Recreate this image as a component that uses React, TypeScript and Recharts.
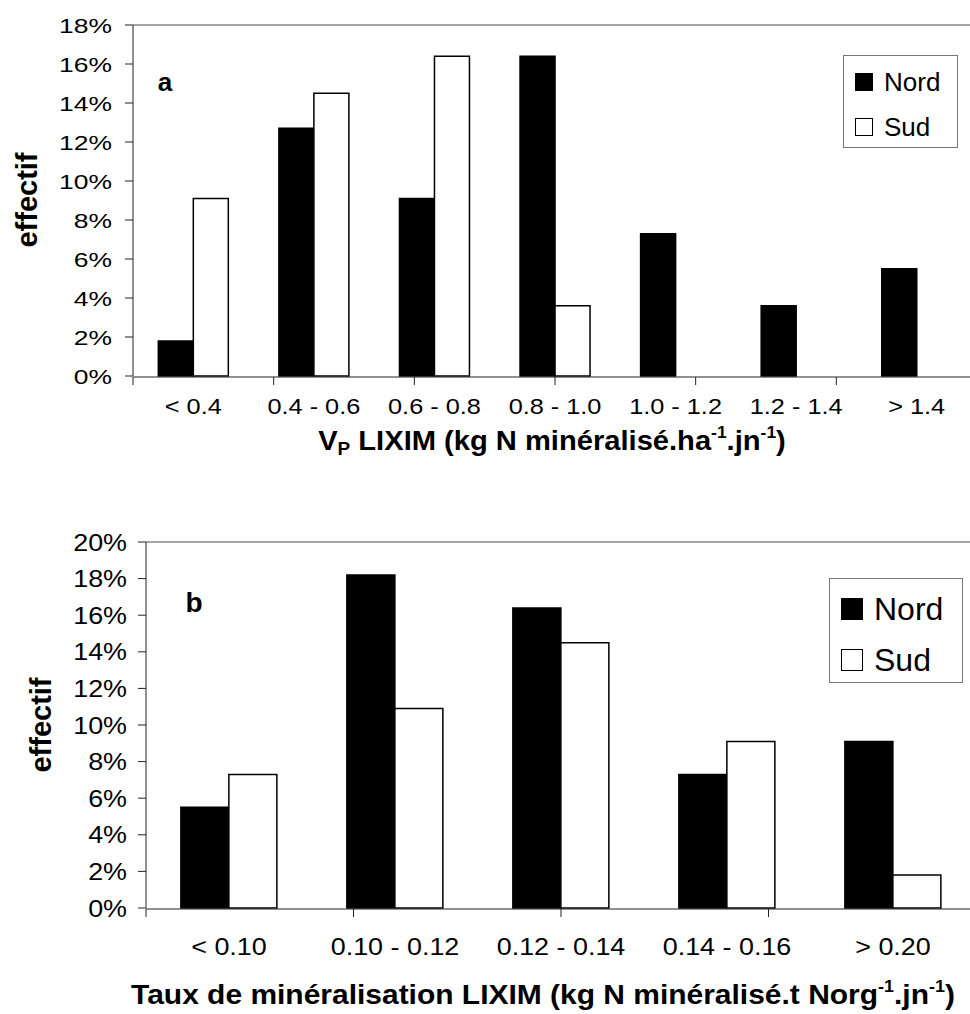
import React from 'react';
import {
  ComposedChart,
  Bar,
  XAxis,
  YAxis,
  ReferenceLine,
  Legend
} from 'recharts';

// panel a : V_P LIXIM classes
const vpClasses = ['< 0.4', '0.4 - 0.6', '0.6 - 0.8', '0.8 - 1.0', '1.0 - 1.2', '1.2 - 1.4', '> 1.4'];
const vpNord = [1.8, 12.7, 9.1, 16.4, 7.3, 3.6, 5.5];
const vpSud = [9.1, 14.5, 16.4, 3.6, 0, 0, 0];
const vpTicks = [0, 2, 4, 6, 8, 10, 12, 14, 16, 18];

// panel b : taux de minéralisation classes
const tauxClasses = ['< 0.10', '0.10 - 0.12', '0.12 - 0.14', '0.14 - 0.16', '> 0.20'];
const tauxNord = [5.5, 18.2, 16.4, 7.3, 9.1];
const tauxSud = [7.3, 10.9, 14.5, 9.1, 1.8];
const tauxTicks = [0, 2, 4, 6, 8, 10, 12, 14, 16, 18, 20];

const FONT = '"Liberation Sans", Arial, sans-serif';

const vpData = vpClasses.map((c, i) => ({ cls: c, Nord: vpNord[i], Sud: vpSud[i] }));
const tauxData = tauxClasses.map((c, i) => ({ cls: c, Nord: tauxNord[i], Sud: tauxSud[i] }));

const blank = () => '';

// the original glyphs are a bit wider than Arial, so stretch them horizontally
const makeCatTick = (fontPx: number, stretch: number, shiftY: number) => (p: any) => (
  <g transform={`translate(${p.x},${p.y}) scale(${stretch},1)`}>
    <text x={0} y={shiftY} textAnchor="middle" fontFamily={FONT} fontSize={fontPx} fill="#000">
      {p.payload.value}
    </text>
  </g>
);

const makePctTick = (fontPx: number, stretch: number) => (p: any) => (
  <g transform={`translate(${p.x},${p.y}) scale(${stretch},1)`}>
    <text x={0} y={fontPx * 0.36} textAnchor="end" fontFamily={FONT} fontSize={fontPx} fill="#000">
      {`${p.payload.value}%`}
    </text>
  </g>
);

const makeLegend = (fontPx: number, sq: number, w: number, h: number, pad: number[], gap: number) => (p: any) => (
  <div
    style={{
      width: w,
      height: h,
      boxSizing: 'border-box',
      border: '1px solid #777',
      background: '#fff',
      padding: `${pad[0]}px 0 0 ${pad[1]}px`,
      fontFamily: FONT,
      fontSize: fontPx,
      lineHeight: 1,
      color: '#000'
    }}
  >
    {(p.payload || []).map((entry: any, i: number) => (
      <div key={entry.value} style={{ display: 'flex', alignItems: 'center', marginTop: i ? gap : 0 }}>
        <span
          style={{
            display: 'inline-block',
            width: sq,
            height: sq,
            boxSizing: 'border-box',
            background: entry.color,
            border: '1.5px solid #000',
            marginRight: 11
          }}
        />
        <span>{entry.value}</span>
      </div>
    ))}
  </div>
);

const sup = { fontSize: '0.6em', position: 'relative' as const, top: '-0.7em' };
const sub = { fontSize: '0.65em', position: 'relative' as const, top: '0.25em' };

const abs = (left: number, top: number, extra: React.CSSProperties = {}, tr = ''): React.CSSProperties => ({
  position: 'absolute',
  left,
  top,
  transform: `translate(-50%, -50%) ${tr}`,
  whiteSpace: 'nowrap',
  fontFamily: FONT,
  fontWeight: 'bold',
  color: '#000',
  ...extra
});

const App: React.FC = () => {
  const nClasses = vpClasses.length;
  const nTaux = tauxClasses.length;

  return (
    <div style={{ position: 'absolute', left: 0, top: 0, width: 970, height: 1014, overflow: 'hidden', background: '#fff' }}>
      {/* panel a */}
      <div style={{ position: 'absolute', left: 0, top: 0 }}>
        <ComposedChart width={990} height={470} data={vpData} barCategoryGap="21%" barGap={0}
          margin={{ top: 25, right: 13, bottom: 92, left: 0 }}>
          <XAxis xAxisId="edges" type="number" domain={[0, nClasses]}
            ticks={Array.from({ length: nClasses + 1 }, (_, i) => i)} height={1}
            tickSize={8} tickFormatter={blank} stroke="#222" />
          <XAxis xAxisId="cat" dataKey="cls" height={1} tickLine={false} axisLine={false}
            tickSize={0} tickMargin={0} interval={0} tick={makeCatTick(22, 1.15, 38)} />
          <YAxis width={133} domain={[0, 18]} ticks={vpTicks}
            tickSize={8} tickMargin={13} stroke="#222"
            tick={makePctTick(21, 1.26)} />
          <ReferenceLine xAxisId="cat" y={18} stroke="#888" strokeWidth={1.5} />
          <Bar xAxisId="cat" dataKey="Nord" name="Nord" fill="#000" stroke="#000" strokeWidth={1.5} isAnimationActive={false} />
          <Bar xAxisId="cat" dataKey="Sud" name="Sud" fill="#fff" stroke="#000" strokeWidth={1.5} isAnimationActive={false} />
          <Legend layout="vertical" align="center" verticalAlign="middle"
            wrapperStyle={{ left: 843, top: 55, width: 115, height: 93 }}
            content={makeLegend(26, 18, 115, 93, [13, 11], 19)} />
        </ComposedChart>
      </div>
      <div style={abs(165, 82, { fontSize: 26 })}>a</div>
      <div style={abs(27, 200, { fontSize: 29 }, 'rotate(-90deg)')}>effectif</div>
      <div style={abs(552, 441, { fontSize: 28 }, 'scaleX(1.04)')}>
        V<span style={sub}>P</span> LIXIM (kg N minéralisé.ha<span style={sup}>-1</span>.jn<span style={sup}>-1</span>)
      </div>

      {/* panel b */}
      <div style={{ position: 'absolute', left: 0, top: 500 }}>
        <ComposedChart width={990} height={514} data={tauxData} barCategoryGap="21%" barGap={0}
          margin={{ top: 42, right: 14, bottom: 104, left: 0 }}>
          <XAxis xAxisId="edges" type="number" domain={[0, nTaux]}
            ticks={Array.from({ length: nTaux + 1 }, (_, i) => i)} height={1}
            tickSize={8} tickFormatter={blank} stroke="#222" />
          <XAxis xAxisId="cat" dataKey="cls" height={1} tickLine={false} axisLine={false}
            tickSize={0} tickMargin={0} interval={0} tick={makeCatTick(23, 1.17, 47)} />
          <YAxis width={146} domain={[0, 20]} ticks={tauxTicks}
            tickSize={8} tickMargin={11} stroke="#222"
            tick={makePctTick(24, 1.12)} />
          <ReferenceLine xAxisId="cat" y={20} stroke="#888" strokeWidth={1.5} />
          <Bar xAxisId="cat" dataKey="Nord" name="Nord" fill="#000" stroke="#000" strokeWidth={1.5} isAnimationActive={false} />
          <Bar xAxisId="cat" dataKey="Sud" name="Sud" fill="#fff" stroke="#000" strokeWidth={1.5} isAnimationActive={false} />
          <Legend layout="vertical" align="center" verticalAlign="middle"
            wrapperStyle={{ left: 829, top: 78, width: 134, height: 105 }}
            content={makeLegend(32, 22, 134, 105, [14, 11], 19)} />
        </ComposedChart>
      </div>
      <div style={abs(194, 603, { fontSize: 28 })}>b</div>
      <div style={abs(41, 725, { fontSize: 29 }, 'rotate(-90deg)')}>effectif</div>
      <div style={abs(543, 995, { fontSize: 28 }, 'scaleX(1.07)')}>
        Taux de minéralisation LIXIM (kg N minéralisé.t Norg<span style={sup}>-1</span>.jn<span style={sup}>-1</span>)
      </div>
    </div>
  );
};

export default App;
